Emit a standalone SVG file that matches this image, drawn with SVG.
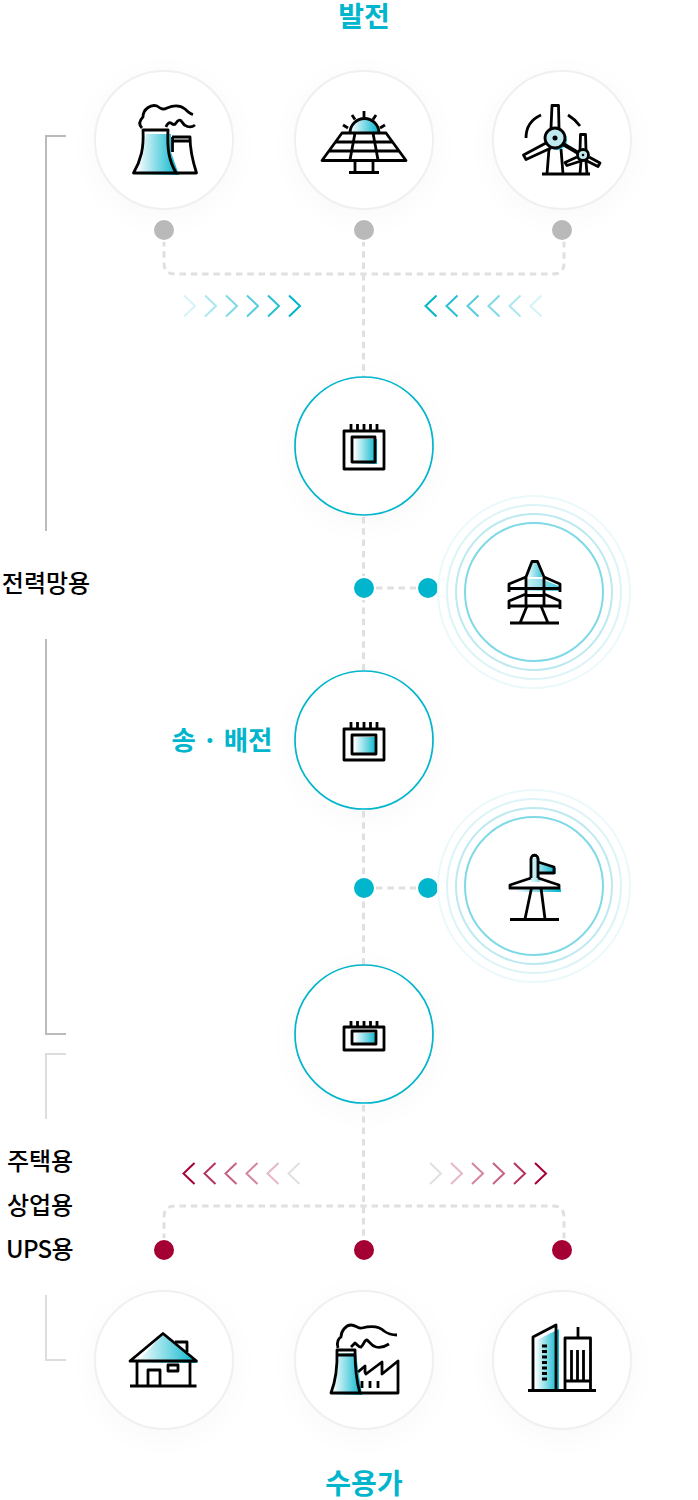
<svg xmlns="http://www.w3.org/2000/svg" width="698" height="1500" viewBox="0 0 698 1500">
<style>
text{font-family:"Noto Sans CJK KR","Noto Sans",sans-serif;text-anchor:middle}
.h{font-size:28px;font-weight:700;fill:#00b5cc}
.m{font-size:26.500px;font-weight:700;fill:#00b5cc}
.l{font-size:24px;font-weight:500;fill:#000}
.u{letter-spacing:-.7px}
.i{fill:none;stroke:#000;stroke-width:2.800;stroke-linejoin:round}
.g{fill:url(#gr);stroke:none}
.sh{fill:#000;opacity:.022;filter:url(#bl)}
.c1{fill:#fff;stroke:#f0f0f0;stroke-width:2}
.c2{fill:#fff;stroke:#00b5cc;stroke-width:1.700}
.d{fill:none;stroke:#e0e0e0;stroke-width:3;stroke-dasharray:6.500 4.800}
.ch{fill:none;stroke-width:2}
.b{fill:none;stroke-width:2}
.dot{stroke:#fff;stroke-width:2}
.r1{fill:none;stroke:#ecf9fb;stroke-width:2}
.r2{fill:none;stroke:#dcf4f7;stroke-width:2}
.r3{fill:none;stroke:#bde9f0;stroke-width:2}
.r4{fill:#fff;stroke:#7fd9e6;stroke-width:2}
</style>
<defs>
<linearGradient id="gr" x1="0" y1="0" x2="1" y2="0"><stop offset="0" stop-color="#fff"/><stop offset="1" stop-color="#00b5cc"/></linearGradient>
<filter id="bl" x="-60%" y="-60%" width="220%" height="220%"><feGaussianBlur stdDeviation="16"/></filter>
<polyline id="cr" points="0,0 11,10.500 0,21"/>
<polyline id="cl" points="11,0 0,10.500 11,21"/>
</defs>

<g id="brackets">
<path class="b" stroke="#bbb" d="M66 136H46V531"/>
<path class="b" stroke="#bbb" d="M46 639V1034H66"/>
<path class="b" stroke="#ddd" d="M66 1054H46V1119"/>
<path class="b" stroke="#ddd" d="M46 1295V1360H66"/>
</g>

<g id="shadows">
<circle class="sh" cx="164" cy="146" r="72"/><circle class="sh" cx="364" cy="146" r="72"/><circle class="sh" cx="562" cy="146" r="72"/>
<circle class="sh" cx="364" cy="452" r="72"/><circle class="sh" cx="364" cy="746" r="72"/><circle class="sh" cx="364" cy="1040" r="72"/>
<circle class="sh" cx="164" cy="1366" r="72"/><circle class="sh" cx="364" cy="1366" r="72"/><circle class="sh" cx="562" cy="1366" r="72"/>
</g>

<g id="connectors">
<path class="d" d="M363.500 240V377"/>
<path class="d" d="M164 240V263Q164 274 175 274H553Q564 274 564 263V240"/>
<path class="d" d="M363.500 517V670"/>
<path class="d" d="M376 588H420"/>
<path class="d" d="M363.500 811V965"/>
<path class="d" d="M376 888H420"/>
<path class="d" d="M363.500 1105V1240"/>
<path class="d" d="M164 1240V1217Q164 1206 175 1206H553Q564 1206 564 1217V1240"/>
</g>

<g id="chevrons-top" stroke="#00b5cc">
<use href="#cr" class="ch" x="184" y="295.500" opacity=".17"/><use href="#cr" class="ch" x="205" y="295.500" opacity=".33"/><use href="#cr" class="ch" x="226" y="295.500" opacity=".5"/><use href="#cr" class="ch" x="247" y="295.500" opacity=".67"/><use href="#cr" class="ch" x="268" y="295.500" opacity=".85"/><use href="#cr" class="ch" x="289" y="295.500"/>
<use href="#cl" class="ch" x="425.500" y="295.500"/><use href="#cl" class="ch" x="446.500" y="295.500" opacity=".85"/><use href="#cl" class="ch" x="467.500" y="295.500" opacity=".67"/><use href="#cl" class="ch" x="488.500" y="295.500" opacity=".5"/><use href="#cl" class="ch" x="509.500" y="295.500" opacity=".33"/><use href="#cl" class="ch" x="530.500" y="295.500" opacity=".17"/>
</g>
<g id="chevrons-bottom">
<g stroke="#a50034"><use href="#cl" class="ch" x="183.500" y="1163"/><use href="#cl" class="ch" x="204.500" y="1163" opacity=".8"/><use href="#cl" class="ch" x="225.500" y="1163" opacity=".62"/><use href="#cl" class="ch" x="246.500" y="1163" opacity=".48"/><use href="#cl" class="ch" x="267.500" y="1163" opacity=".28"/></g>
<use href="#cl" class="ch" stroke="#e0e0e0" x="288.500" y="1163"/>
<use href="#cr" class="ch" stroke="#e0e0e0" x="430" y="1163"/>
<g stroke="#a50034"><use href="#cr" class="ch" x="451" y="1163" opacity=".28"/><use href="#cr" class="ch" x="472" y="1163" opacity=".48"/><use href="#cr" class="ch" x="493" y="1163" opacity=".62"/><use href="#cr" class="ch" x="514" y="1163" opacity=".8"/><use href="#cr" class="ch" x="535" y="1163"/></g>
</g>

<g id="dots">
<circle class="dot" fill="#b9b9b9" cx="164" cy="230" r="11"/><circle class="dot" fill="#b9b9b9" cx="364" cy="230" r="11"/><circle class="dot" fill="#b9b9b9" cx="562" cy="230" r="11"/>
<circle class="dot" fill="#00b5cc" cx="364" cy="588" r="11"/><circle class="dot" fill="#00b5cc" cx="428" cy="588" r="11"/>
<circle class="dot" fill="#00b5cc" cx="364" cy="888" r="11"/><circle class="dot" fill="#00b5cc" cx="428" cy="888" r="11"/>
<circle class="dot" fill="#a50034" cx="164" cy="1250" r="11"/><circle class="dot" fill="#a50034" cx="364" cy="1250" r="11"/><circle class="dot" fill="#a50034" cx="562" cy="1250" r="11"/>
</g>

<g id="node-power-plant">
<circle class="c1" cx="164" cy="140" r="69"/>
<path class="g" d="M146 134H171L171 152L179 175H136L143 155Z"/>
<path class="i" d="M172 137H190C190 152 193 162 196.500 173H176M172.500 137V152M172 141H190"/>
<path class="i" d="M143 130H168C167 150 169 160 176 173H133.500C141 160 144 148 143 130Z"/>
<path class="i" d="M142 128C138 124 140 120 143 117C143 109 151 104 157 106C161 109 163 110 167 108C174 105 180 105 185 109C188 112 191 114 193 114.500"/>
<path class="i" d="M166 127C167 124 169 122 171 123C173 125 175 125 176 123C178 120 180 119 182 122C184 126 190 129 195 125"/>
</g>

<g id="node-solar">
<circle class="c1" cx="364" cy="140" r="69"/>
<path class="g" d="M350 133A14.500 14.500 0 0 1 379 133Z"/>
<path class="i" d="M350 133A14.500 14.500 0 0 1 379 133"/>
<path class="i" d="M342 133H386L406 160.500H322ZM336 142H392M329 151H399M355 133L350 160M373 133L378 160M355 160V172M373 160V172M349 172.500H379"/>
<path class="i" d="M343 125L348 128M352 115L355 119.500M364 111V117M376 115L373 119.500M385 125L380 128"/>
</g>

<g id="node-wind">
<circle class="c1" cx="562" cy="140" r="69"/>
<path class="i" d="M526 138C526 127 532 119 541 115M568 115C573 118 577 122 580 126"/>
<path class="i" d="M551 128L552 105.500H558.500L559 128"/>
<path class="i" d="M546 143L523.500 155L526 159.500L551 148"/>
<path class="i" d="M549 149L547 174M561 149L563 174M542 174H590"/>
<circle cx="557" cy="140" r="10" fill="#00b5cc"/>
<path d="M563 144L580 154" fill="none" stroke="#000" stroke-width="4"/>
<circle cx="555" cy="138" r="10" fill="#bfe9ef" stroke="#000" stroke-width="2.800"/>
<circle cx="555" cy="138" r="2.500" fill="#000"/>
<path class="i" d="M580 150L580.500 134.500H585.500L586 150"/>
<path class="i" d="M577 157L565 162.500L567 165.500L581 161"/>
<path class="i" d="M589 157L600 163L598 166.500L585 160"/>
<path class="i" d="M581 161L580 174M586 161L587 174"/>
<circle cx="583" cy="155" r="5.500" fill="#bfe9ef" stroke="#000" stroke-width="2.800"/>
<circle cx="583" cy="155" r="1.300" fill="#000"/>
</g>

<g id="node-sub1">
<circle class="c2" cx="364" cy="446" r="69"/>
<rect class="g" x="354" y="439" width="23" height="25"/>
<path class="i" d="M344 431H384V469H344ZM352 437H375V462H352ZM351 424V431M357.500 424V431M364 424V431M370.500 424V431M377 424V431"/>
</g>

<g id="node-sub2">
<circle class="c2" cx="364" cy="740" r="69"/>
<rect class="g" x="354" y="737" width="23" height="18"/>
<path class="i" d="M344 729H384V760H344ZM352 735H376V754H352ZM351 722V729M357.500 722V729M364 722V729M370.500 722V729M377 722V729"/>
</g>

<g id="node-sub3">
<circle class="c2" cx="364" cy="1034" r="69"/>
<rect class="g" x="354" y="1033" width="23" height="12"/>
<path class="i" d="M344 1027H384V1050H344ZM352 1031H376V1044H352ZM351 1021V1027M357.500 1021V1027M364 1021V1027M370.500 1021V1027M377 1021V1027"/>
</g>

<g id="node-tower1">
<circle class="r1" cx="534" cy="592" r="96"/><circle class="r2" cx="534" cy="592" r="87"/><circle class="r3" cx="534" cy="592" r="78"/>
<circle class="r4" cx="534" cy="592" r="69"/>
<path class="g" d="M528 577L532 563H538L542 577H526Z" opacity=".75"/>
<path class="g" d="M512 590H526V579H542L561 587V591H512Z" opacity=".75"/>
<path class="i" d="M527 606L520 623M541 606L548 623M510 623H559"/>
<path class="i" d="M532 561.500H537.500L544 577V606H526V577ZM526 577L509 584V592M544 577L560 584V592M509 588.500H560M526 595.500H544M526 594L509 601V609M544 594L560 601V609M509 606H560"/>
</g>

<g id="node-tower2">
<circle class="r1" cx="534" cy="886" r="96"/><circle class="r2" cx="534" cy="886" r="87"/><circle class="r3" cx="534" cy="886" r="78"/>
<circle class="r4" cx="534" cy="886" r="69"/>
<path class="g" d="M528 858H540V862L556 868V874H540V882H528Z"/>
<path class="g" d="M515 889H561V892H515Z"/>
<path class="i" d="M531 878V859C531 854 538 854 538 859V878"/>
<path class="i" d="M538 862L554 867V873H538"/>
<path class="i" d="M531 878L510 885V889M538 878L559 885V889M509 888H560"/>
<path class="i" d="M531.500 888L525 919M541 888L545 919M510 919.500H559"/>
</g>

<g id="node-house">
<circle class="c1" cx="164" cy="1360" r="69"/>
<path class="g" d="M163 1334L198 1363H136Z"/>
<path class="i" d="M175 1342H187V1352"/>
<path class="i" d="M163 1333.500L130 1361H196.500ZM137 1361V1386M190 1361V1386M130 1386H196.500M148 1386V1370H160V1386M168 1365H178V1371H168Z"/>
</g>

<g id="node-factory">
<circle class="c1" cx="364" cy="1360" r="69"/>
<path class="g" d="M339 1353H356L359 1375L362 1395H332L337 1375Z"/>
<path class="i" d="M337 1350H355C355 1365 356 1380 360 1393H331C336 1380 337.500 1365 337 1350ZM337 1355H355"/>
<path class="i" d="M358 1372L365 1366V1372L366 1374L382 1362V1374L398 1361V1393H360"/>
<path class="i" d="M362 1381V1388M370 1381V1388M378 1381V1388"/>
<path class="i" d="M338 1348C336 1342 339 1338 341 1337C341 1331 346 1325 351 1325C356 1325 358 1329 362 1328C370 1326 379 1326 384 1331C388 1334 392 1335 397 1335"/>
<path class="i" d="M351 1347L355 1343C357 1344 358 1347 361 1347C364 1345 364 1340 367 1340C370 1342 371 1346 376 1347C381 1348 386 1346 389 1344"/>
</g>

<g id="node-building">
<circle class="c1" cx="562" cy="1360" r="69"/>
<path class="g" d="M535 1341L559 1329V1391H535Z"/>
<path class="i" d="M533 1390V1337L556 1325V1390M528 1390.500H596"/>
<path class="i" d="M542 1346H547M542 1351.500H547M542 1357H547M542 1362.500H547M542 1368H547M542 1373.500H547M542 1379H547"/>
<path class="i" d="M565 1390V1338H590.500V1390M578 1327V1338M571.500 1350V1381M577.500 1350V1381M583.500 1350V1381M565 1381H590.500"/>
</g>

<g id="labels">
<text class="h" x="364" y="27">발전</text>
<text class="l" x="46" y="592">전력망용</text>
<text class="m" x="222" y="750">송 · 배전</text>
<text class="l" x="40" y="1170">주택용</text>
<text class="l" x="40" y="1214">상업용</text>
<text class="l u" x="39.500" y="1258">UPS용</text>
<text class="h" x="364" y="1494">수용가</text>
</g>
</svg>
